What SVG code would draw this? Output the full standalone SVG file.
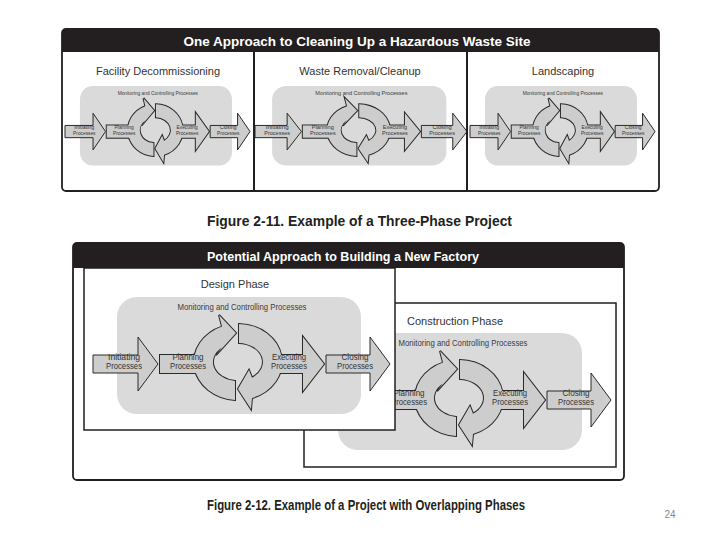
<svg xmlns="http://www.w3.org/2000/svg" width="720" height="540" viewBox="0 0 720 540">
<style>
text{font-family:"Liberation Sans",Arial,sans-serif}
.frame{fill:#fff;stroke:#231f20;stroke-width:1.8}
.box{fill:#fff;stroke:#231f20;stroke-width:1.5}
.hdr{fill:#231f20}
.htx{fill:#fff;font-weight:bold;text-anchor:middle}
.ttl{fill:#333;font-size:11px;text-anchor:middle}
.cap{fill:#231f20;font-weight:bold;font-size:15.5px}
.bg{fill:#dadada}
.mc{fill:#3a3a3a;font-size:8.8px;text-anchor:middle}
.lbl{fill:#333;font-size:9px;text-anchor:middle}
.arr{fill:#cdcdcd;stroke:#2a2a2a;stroke-width:1;vector-effect:non-scaling-stroke}
.ve{vector-effect:non-scaling-stroke}
.und{fill:none;stroke:#2a2a2a;stroke-width:2}
.ovr{fill:#cdcdcd;stroke:none}
.div{stroke:#231f20;stroke-width:2}
</style>
<defs>
  <path id="sA" class="ve" d="M235,399.9 A44,38 0 0 1 222,326.6 L219,315 L236,333 L216,355 L222,347.4 A25,19 0 0 0 235,380.9 Z"/>
  <rect id="sP" class="ve" x="160" y="355" width="48" height="18"/>
  <path id="sB" class="ve" d="M239,324 A44,38 0 0 1 252,398 L251,409 L238,389 L249,370 L252,377.7 A25,19 0 0 0 239,343 Z"/>
  <path id="sE" class="ve" d="M268,355 H303 V337 L324,364 L303,391 V373 H268 Z"/>
  <g id="u-bg">
    <rect class="bg" x="117" y="297" width="244" height="117" rx="20"/>
    <text class="mc" x="242" y="310" textLength="129" lengthAdjust="spacingAndGlyphs">Monitoring and Controlling Processes</text>
  </g>
  <g id="u-init">
    <path class="arr" d="M93,355 H138 V337 L158,364 L138,391 V373 H93 Z"/>
    <text class="lbl" x="124" y="360" textLength="32" lengthAdjust="spacingAndGlyphs">Initiating</text>
    <text class="lbl" x="124" y="369" textLength="36" lengthAdjust="spacingAndGlyphs">Processes</text>
  </g>
  <g id="u-core">
    <g id="n-planning">
      <use href="#sP" class="und"/><use href="#sA" class="und"/>
      <use href="#sP" class="ovr"/><use href="#sA" class="ovr"/>
    </g>
    <g id="n-executing">
      <use href="#sB" class="und"/><use href="#sE" class="und"/>
      <use href="#sB" class="ovr"/><use href="#sE" class="ovr"/>
    </g>
    <g id="n-closing">
      <path class="arr" d="M326,355 H370 V337 L390,364 L370,391 V373 H326 Z"/>
    </g>
    <text class="lbl" x="188" y="360" textLength="31" lengthAdjust="spacingAndGlyphs">Planning</text>
    <text class="lbl" x="188" y="369" textLength="36" lengthAdjust="spacingAndGlyphs">Processes</text>
    <text class="lbl" x="289" y="360" textLength="34" lengthAdjust="spacingAndGlyphs">Executing</text>
    <text class="lbl" x="289" y="369" textLength="36" lengthAdjust="spacingAndGlyphs">Processes</text>
    <text class="lbl" x="355" y="360" textLength="27" lengthAdjust="spacingAndGlyphs">Closing</text>
    <text class="lbl" x="355" y="369" textLength="36" lengthAdjust="spacingAndGlyphs">Processes</text>
  </g>
</defs>

<g id="figure-2-11">
  <rect class="frame" x="62" y="29" width="597" height="162" rx="4"/>
  <path class="hdr" d="M62,52 V33 Q62,29 66,29 H655 Q659,29 659,33 V52 Z"/>
  <text class="htx" x="357" y="46" font-size="13" textLength="347" lengthAdjust="spacingAndGlyphs">One Approach to Cleaning Up a Hazardous Waste Site</text>
  <g id="phase-facility">
    <text class="ttl" x="158" y="75">Facility Decommissioning</text>
    <g transform="translate(7.06,-115.96) scale(0.623,0.68)">
      <use href="#u-bg"/><use href="#u-init"/><use href="#u-core"/>
    </g>
  </g>
  <g id="phase-waste">
    <text class="ttl" x="360" y="75">Waste Removal/Cleanup</text>
    <g transform="translate(188.6,-115.96) scale(0.714,0.68)">
      <use href="#u-bg"/><use href="#u-init"/><use href="#u-core"/>
    </g>
  </g>
  <g id="phase-landscaping">
    <text class="ttl" x="563" y="75">Landscaping</text>
    <g transform="translate(412.06,-115.96) scale(0.623,0.68)">
      <use href="#u-bg"/><use href="#u-init"/><use href="#u-core"/>
    </g>
  </g>
  <line class="div" x1="254" y1="52" x2="254" y2="191"/>
  <line class="div" x1="467" y1="52" x2="467" y2="191"/>
</g>
<text class="cap" x="207" y="226" textLength="305" lengthAdjust="spacingAndGlyphs">Figure 2-11. Example of a Three-Phase Project</text>

<g id="figure-2-12">
  <rect class="frame" x="73" y="243" width="551" height="237" rx="4"/>
  <path class="hdr" d="M73,268 V247 Q73,243 77,243 H620 Q624,243 624,247 V268 Z"/>
  <text class="htx" x="343" y="261" font-size="12.5" textLength="272" lengthAdjust="spacingAndGlyphs">Potential Approach to Building a New Factory</text>
  <g id="phase-construction">
    <rect class="box" x="304" y="303" width="312" height="164"/>
    <text class="ttl" x="455" y="325">Construction Phase</text>
    <g transform="translate(221,36)">
      <use href="#u-bg"/><use href="#u-core"/>
    </g>
  </g>
  <g id="phase-design">
    <rect class="box" x="84" y="268" width="311" height="162"/>
    <text class="ttl" x="235" y="288">Design Phase</text>
    <use href="#u-bg"/><use href="#u-init"/><use href="#u-core"/>
  </g>
</g>
<text class="cap" x="207" y="510" textLength="318" lengthAdjust="spacingAndGlyphs">Figure 2-12. Example of a Project with Overlapping Phases</text>
<text x="670" y="518" font-size="10" fill="#888" text-anchor="middle" font-family="Liberation Sans, Arial, sans-serif">24</text>
</svg>
